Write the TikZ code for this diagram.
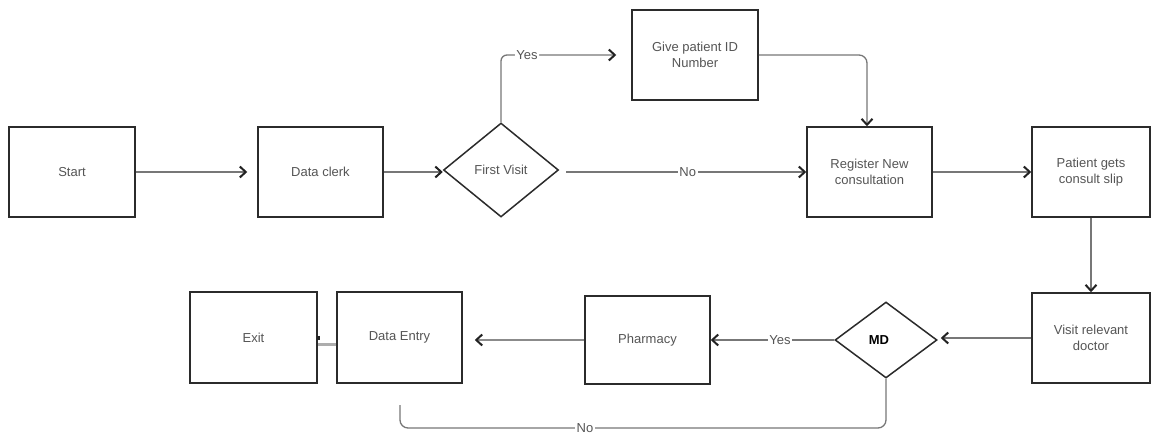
\documentclass[tikz,border=0pt]{standalone}
\usepackage{fontspec}
\setmainfont{Liberation Sans}
\usetikzlibrary{arrows.meta,shapes.geometric,shadows}
\definecolor{boxline}{HTML}{2B2B2B}
\definecolor{txt}{HTML}{555555}
\definecolor{wire}{HTML}{777777}
\definecolor{tipc}{HTML}{222222}
\tikzset{
  proc/.style={draw=boxline, line width=1.5pt, fill=white, rectangle,
    minimum width=125pt, minimum height=90pt, inner sep=2pt, align=center,
    text=txt, font=\fontsize{13}{16}\selectfont,
    drop shadow={shadow xshift=0.9pt, shadow yshift=-1.2pt, fill=black!75, opacity=1}},
  decide/.style={draw=boxline, line width=1.5pt, fill=white, diamond,
    inner sep=0pt, align=center, text=txt, font=\fontsize{13}{16}\selectfont},
  flow/.style={draw=wire, line width=1.3pt,
    -{Straight Barb[length=6pt, width=11pt, line width=2pt, color=tipc]}},
  plain/.style={draw=wire, line width=1.3pt},
  lbl/.style={fill=white, inner sep=1.5pt, text=txt, font=\fontsize{13}{16}\selectfont},
}
\begin{document}
\begin{tikzpicture}[x=1pt, y=-1pt]
  \useasboundingbox (0,0) rectangle (1152,436);

  % top row
  \node[proc, minimum width=126pt] (start) at (72,172) {Start};
  \node[proc] (clerk) at (320.5,172) {Data clerk};
  \node[decide, minimum width=115pt, minimum height=94pt] (first) at (501,170) {First Visit};
  \node[proc, minimum width=126pt] (give) at (695,55) {Give patient ID\\Number};
  \node[proc] (reg) at (869.5,172) {Register New\\consultation};
  \node[proc, minimum width=118pt] (slip) at (1091,172) {Patient gets\\consult slip};

  % bottom row
  \node[proc, minimum width=118pt] (doctor) at (1091,338) {Visit relevant\\doctor};
  \node[decide, minimum width=102pt, minimum height=76pt,
        font=\fontsize{13}{16}\selectfont\bfseries, text=black] (md) at (886,340) {MD\hspace{14pt}};
  \node[proc, minimum height=88pt] (pharm) at (647.5,340) {Pharmacy};
  \node[proc, minimum height=91pt] (entry) at (399.5,337.5) {Data Entry};
  \node[proc, minimum width=127pt, minimum height=91pt] (exit) at (253.5,337.5) {Exit};

  \coordinate (noend) at (400,405);

  % connectors, top row
  \draw[flow, shorten >=10pt] (start.east) -- (clerk.west);
  \draw[flow] (clerk.east) -- (clerk.east -| first.west);
  \draw[flow, rounded corners=6pt, shorten >=15pt] (first.north) |- (give.west)
    node[lbl, pos=0.6] {Yes};
  \draw[flow, shorten <=7pt] (reg.west -| first.east) -- (reg.west)
    node[lbl, pos=0.52] {No};
  \draw[flow, rounded corners=8pt] (give.east) -| ([xshift=-2.5pt]reg.north);
  \draw[flow] (reg.east) -- (slip.west);
  \draw[flow] (slip.south) -- (doctor.north);

  % connectors, bottom row
  \draw[flow, shorten >=3pt] (doctor.west) -- (doctor.west -| md.east);
  \draw[flow] (md.west) -- (pharm.east) node[lbl, pos=0.44] {Yes};
  \draw[flow, line width=2.2pt, draw=wire!85, shorten >=12pt]
    (pharm.west) -- (pharm.west -| entry.east);
  \draw[plain, line width=2.5pt, draw=wire!60] ([yshift=-7pt]entry.west) -- ([yshift=-7pt]exit.east);
  \fill[tipc] ([xshift=-0.5pt,yshift=2pt]exit.east) rectangle ([xshift=2pt,yshift=-2pt]exit.east);
  \draw[plain, rounded corners=8pt] (md.south) |- (noend |- 0,428) -- (noend);
  \node[lbl] at (585,428) {No};
\end{tikzpicture}
\end{document}
